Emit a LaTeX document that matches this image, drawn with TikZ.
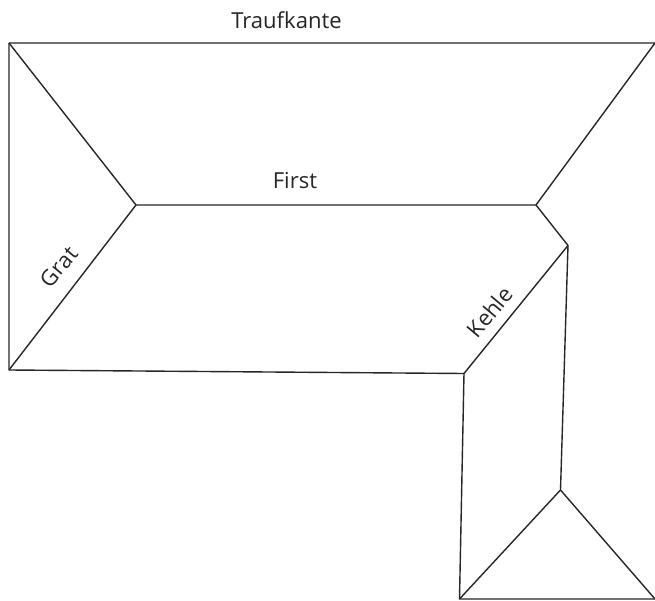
\documentclass[tikz,border=0pt]{standalone}
\usepackage{fontspec}
\setmainfont{Open Sans}
\tikzset{roof/.style={draw=black!85,line width=1.05pt,line join=round},lbl/.style={font=\fontsize{16.6}{20}\selectfont,text=black!85,inner sep=0pt}}
\begin{document}
\begin{tikzpicture}[x=0.75292pt,y=-0.75292pt]
% 1 unit = 1 px; page 655x601
\useasboundingbox (0,0) rectangle (655,601);
\coordinate (a) at (9,43);
\coordinate (b) at (655,43);
\coordinate (c) at (136,205);
\coordinate (d) at (536,205);
\coordinate (e) at (568,245.5);
\coordinate (f) at (9,370);
\coordinate (g) at (464,373.5);
\coordinate (h) at (560.5,490);
\coordinate (i) at (459.5,599);
\coordinate (j) at (655,599);
\draw[roof] (a) -- (b) -- (d) -- (e) -- (h) -- (j);
\draw[roof] (j) -- (i) -- (g) -- (f) -- (a);
\draw[roof] (a) -- (c) -- (d);
\draw[roof] (f) -- (c);
\draw[roof] (g) -- (e);
\draw[roof] (i) -- (h);
\node[lbl] (t1) at (286.5,20) {Traufkante};
\node[lbl] (t2) at (295,180.5) {First};
\node[lbl,rotate=50] (t3) at (59,267) {Grat};
\node[lbl,rotate=50] (t4) at (489.5,312) {Kehle};
\end{tikzpicture}
\end{document}
